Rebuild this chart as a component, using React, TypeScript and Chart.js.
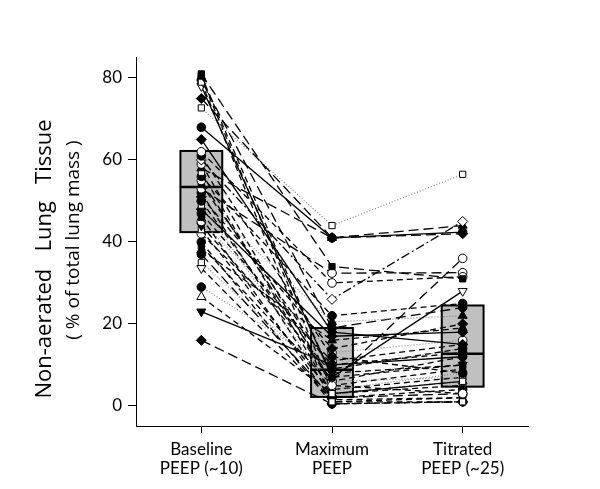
import React, { useEffect, useRef } from "react";
import { Chart, registerables } from "chart.js";

Chart.register(...registerables);

const categories = [
  ["Baseline", "PEEP (~10)"],
  ["Maximum", "PEEP"],
  ["Titrated", "PEEP (~25)"],
];
const yTicks = [0, 20, 40, 60, 80];

const boxQ1 = [42.4, 2.2, 4.7];
const boxMedian = [53.4, 8.8, 12.7];
const boxQ3 = [62.2, 19.0, 24.5];

const baseline = [81, 80.5, 79, 78, 75, 72.7, 68, 65, 62, 61, 60, 59, 58, 57, 56, 55, 54, 53, 52, 51, 50.5, 50, 49, 48, 47, 46, 45, 44, 43, 42, 40, 39, 38, 37, 35, 33.6, 29, 26.6, 23, 16, 80, 79.5];
const maximum = [34, 7, 1, 7, 41, 44, 41, 18, 30, 12, 26, 5, 41, 3, 22, 6, 9, 32.4, 2, 14, 20.5, 6, 4, 17, 10, 1, 13, 8, 3, 11, 0.5, 5, 16, 2, 6, 1.5, 9, 3, 10, 0.5, 4, 19];
const titrated = [31, 10, 1, 28, 42, 56.5, 42.4, 15, 31.5, 8, 45, 3, 44, 6, 25, 36, 14, 32.5, 4, 20, 22, 12, 8, 18, 13, 2, 16, 10, 5, 15, 1, 9, 19, 3, 7, 2, 14, 6, 12, 1, 7, 24];
const markers = ["fs", "fs", "os", "ov", "fd", "os", "fc", "fd", "oc", "fc", "od", "oc", "ft", "os", "fc", "oc", "fs", "oc", "fc", "fd", "ft", "fc", "os", "fd", "fc", "fs", "oc", "fv", "os", "oc", "fc", "fs", "ft", "fc", "os", "ov", "fc", "ot", "fv", "fd", "fs", "fc"];
const lineStyles = ["long", "dash", "dash", "solid", "long", "dot", "solid", "solid", "dash", "dash", "dashdot", "dash", "long", "dash", "dash", "long", "dash", "long", "dash", "dash", "dot", "dash", "dot", "solid", "dash", "dash", "dot", "dash", "dash", "dash", "dash", "dash", "dash", "long", "dot", "dash", "dot", "dash", "solid", "long", "dash", "long"];

const dashMap: Record<string, number[]> = {
  solid: [],
  dash: [6, 4],
  long: [10, 5],
  dot: [1, 2],
  dashdot: [9, 3, 2, 3],
};

const FONT = "Lato, 'Open Sans', sans-serif";
const TITLE_FONT = "'Open Sans', Lato, sans-serif";

const boxPlugin = {
  id: "boxes",
  beforeDatasetsDraw(chart: any) {
    const { ctx, scales } = chart;
    const x = scales.x;
    const y = scales.y;
    ctx.save();
    for (let i = 0; i < boxQ1.length; i++) {
      const l = x.getPixelForValue(i - 0.16);
      const r = x.getPixelForValue(i + 0.16);
      const t = y.getPixelForValue(boxQ3[i]);
      const b = y.getPixelForValue(boxQ1[i]);
      const m = y.getPixelForValue(boxMedian[i]);
      ctx.fillStyle = "#c0c0c0";
      ctx.fillRect(l, t, r - l, b - t);
      ctx.strokeStyle = "#000";
      ctx.lineWidth = 2;
      ctx.strokeRect(l, t, r - l, b - t);
      ctx.lineWidth = 2.5;
      ctx.beginPath();
      ctx.moveTo(l, m);
      ctx.lineTo(r, m);
      ctx.stroke();
    }
    ctx.restore();
  },
  afterDraw(chart: any) {
    const { ctx } = chart;
    ctx.save();
    ctx.fillStyle = "#000";
    ctx.textAlign = "center";
    ctx.textBaseline = "middle";
    ctx.translate(45, 259);
    ctx.rotate(-Math.PI / 2);
    ctx.font = "22px " + TITLE_FONT;
    ctx.fillText("Non-aerated   Lung   Tissue", 0, 0);
    ctx.restore();
    ctx.save();
    ctx.fillStyle = "#000";
    ctx.textAlign = "center";
    ctx.textBaseline = "middle";
    ctx.translate(74, 240);
    ctx.rotate(-Math.PI / 2);
    ctx.font = "19px " + TITLE_FONT;
    ctx.fillText("( % of total lung mass )", 0, 0);
    ctx.restore();
  },
};

function markerProps(code: string) {
  const filled = code[0] === "f";
  const shape = code[1];
  let pointStyle = "circle";
  let rotation = 0;
  let radius = 4.3;
  if (shape === "s") { pointStyle = "rect"; radius = 4.4; }
  if (shape === "d") { pointStyle = "rectRot"; radius = 5; }
  if (shape === "t") { pointStyle = "triangle"; radius = 5.2; }
  if (shape === "v") { pointStyle = "triangle"; rotation = 180; radius = 5.2; }
  return {
    pointStyle,
    pointRotation: rotation,
    pointRadius: radius,
    pointBackgroundColor: filled ? "#000" : "#fff",
    pointBorderColor: "#000",
    pointBorderWidth: 1,
  };
}

export default function App() {
  const ref = useRef<HTMLCanvasElement>(null);
  useEffect(() => {
    if (!ref.current) return;
    const datasets = baseline.map((b, i) => {
      const st = lineStyles[i];
      return {
        data: [
          { x: 0, y: b },
          { x: 1, y: maximum[i] },
          { x: 2, y: titrated[i] },
        ],
        borderColor: st === "dot" ? "#888" : "#000",
        borderWidth: st === "dot" ? 1.2 : 1.3,
        borderDash: dashMap[st],
        fill: false,
        tension: 0,
        clip: false as any,
        ...markerProps(markers[i]),
      };
    });
    const chart = new Chart(ref.current, {
      type: "line",
      data: { datasets: datasets as any },
      options: {
        animation: false,
        responsive: true,
        maintainAspectRatio: false,
        layout: { padding: { left: 0, right: 72, top: 57.5, bottom: 0 } },
        plugins: { legend: { display: false }, tooltip: { enabled: false } },
        scales: {
          x: {
            type: "linear",
            min: -0.5,
            max: 2.5,
            afterBuildTicks: (s: any) => {
              s.ticks = [{ value: 0 }, { value: 1 }, { value: 2 }];
            },
            afterFit: (s: any) => {
              s.height = 63;
            },
            grid: { drawOnChartArea: false, drawTicks: true, tickLength: 7, color: "#000" },
            border: { display: true, color: "#000", width: 1 },
            ticks: {
              color: "#000",
              font: { family: FONT, size: 17, lineHeight: 1.1 },
              padding: 7,
              maxRotation: 0,
              callback: (v: any) => categories[Math.round(Number(v))] as any,
            },
          },
          y: {
            type: "linear",
            min: -4.9,
            max: 85,
            afterBuildTicks: (s: any) => {
              s.ticks = yTicks.map((v) => ({ value: v }));
            },
            afterFit: (s: any) => {
              s.width = 136;
            },
            grid: { drawOnChartArea: false, drawTicks: true, tickLength: 8, color: "#000" },
            border: { display: true, color: "#000", width: 1 },
            ticks: {
              color: "#000",
              font: { family: FONT, size: 17 },
              padding: 6,
            },
          },
        },
      },
      plugins: [boxPlugin],
    });
    return () => chart.destroy();
  }, []);
  return (
    <div style={{ position: "absolute", left: 0, top: 0, width: 600, height: 489, background: "#fff" }}>
      <canvas ref={ref} />
    </div>
  );
}
